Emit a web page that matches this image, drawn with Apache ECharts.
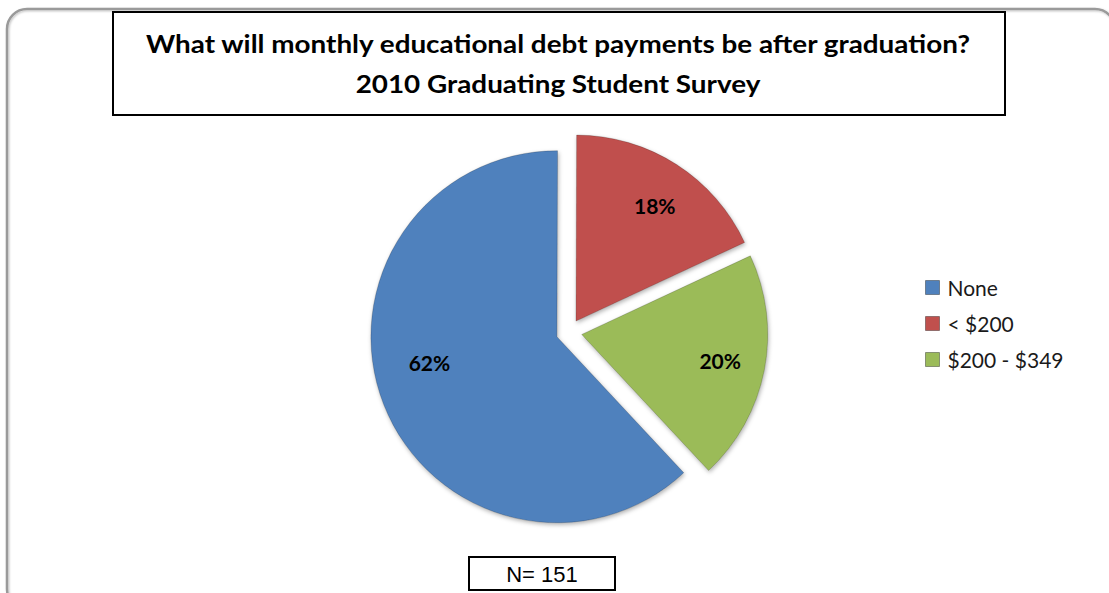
<!DOCTYPE html>
<html>
<head>
<meta charset="utf-8">
<script src="https://cdn.jsdelivr.net/npm/echarts@6/dist/echarts.min.js"></script>
<style>
  html, body { margin: 0; padding: 0; background: #ffffff; }
  #chart { width: 1109px; height: 593px; }
</style>
</head>
<body>
<div id="chart"></div>
<script>
// Survey answers and their shares (percent of respondents)
const categories = ['None', '< $200', '$200 - $349'];
const shares = [62, 18, 20];
const sliceColors = ['#4F81BD', '#C0504D', '#9BBB59'];
const titleLines = [
  'What will monthly educational debt payments be after graduation?',
  '2010 Graduating Student Survey'
];
const sampleNote = 'N= 151';

const chart = echarts.init(document.getElementById('chart'), null, { renderer: 'svg' });

// Pie geometry
const CX = 569, CY = 332, R = 186;
const START = 313;          // first slice starts in the lower right, slices run clockwise
const EXPLODE = 13;         // every slice is pulled out from the centre
const LABEL_FRAC = 0.72;    // labels sit at this fraction of the radius
const LABEL_NUDGE = [[0, -24], [5, 0], [4, 0]];  // small per-label adjustments (px)

// mid angle of each slice, in ECharts' convention (counter-clockwise from 3 o'clock)
const total = shares.reduce((a, b) => a + b, 0);
const midAngles = [];
let acc = 0;
shares.forEach(v => {
  const a0 = START - acc / total * 360;
  const a1 = a0 - v / total * 360;
  midAngles.push((a0 + a1) / 2 * Math.PI / 180);
  acc += v;
});

const titleFont = 'bold 24px Lato, "Open Sans", sans-serif';
const TITLE_STRETCH = 1.16;   // condensed title face widened to fill its box

const option = {
  animation: false,
  backgroundColor: '#ffffff',
  graphic: [
    {
      type: 'rect', z: 0, silent: true,
      shape: { x: 7, y: 9, width: 1108, height: 600, r: 20 },
      style: { fill: 'none', stroke: '#9a9a9a', lineWidth: 2.5,
               shadowBlur: 2, shadowColor: 'rgba(0,0,0,0.25)', shadowOffsetX: 1, shadowOffsetY: 1 }
    },
    {
      type: 'rect', z: 1, silent: true,
      shape: { x: 113, y: 12, width: 892, height: 103 },
      style: { fill: '#ffffff', stroke: '#000000', lineWidth: 2 }
    },
    {
      type: 'text', z: 2, silent: true, x: 558, y: 44, scaleX: TITLE_STRETCH,
      style: { text: titleLines[0], font: titleFont, fill: '#000', align: 'center', verticalAlign: 'middle' }
    },
    {
      type: 'text', z: 2, silent: true, x: 558, y: 84, scaleX: TITLE_STRETCH,
      style: { text: titleLines[1], font: titleFont, fill: '#000', align: 'center', verticalAlign: 'middle' }
    },
    {
      type: 'rect', z: 1, silent: true,
      shape: { x: 469, y: 557, width: 146, height: 33 },
      style: { fill: '#ffffff', stroke: '#000000', lineWidth: 2 }
    },
    {
      type: 'text', z: 2, silent: true, x: 542, y: 574,
      style: { text: sampleNote, font: '22px "Liberation Sans", Arial, sans-serif', fill: '#000',
               align: 'center', verticalAlign: 'middle' }
    }
  ],
  legend: {
    orient: 'vertical',
    left: 920,
    top: 272,
    icon: 'rect',
    itemWidth: 14,
    itemHeight: 14,
    itemGap: 15,
    selectedMode: false,
    data: categories,
    textStyle: {
      fontFamily: 'Lato, "Open Sans", sans-serif',
      fontSize: 21,
      lineHeight: 20,
      color: '#1a1a1a',
      padding: [0, 0, 0, 3]
    },
    itemStyle: { borderColor: 'rgba(0,0,0,0.35)', borderWidth: 1 }
  },
  series: [
    {
      type: 'pie',
      center: [CX, CY],
      radius: R,
      startAngle: START,
      clockwise: true,
      selectedMode: 'multiple',
      selectedOffset: EXPLODE,
      avoidLabelOverlap: false,
      emphasis: { disabled: true },
      itemStyle: {
        borderColor: 'rgba(0,0,0,0.18)',
        borderWidth: 1,
        shadowBlur: 4,
        shadowColor: 'rgba(0,0,0,0.3)',
        shadowOffsetX: 1,
        shadowOffsetY: 2
      },
      label: {
        show: true,
        position: 'inside',
        formatter: '{c}%',
        fontFamily: 'Lato, "Open Sans", sans-serif',
        fontWeight: 'bold',
        fontSize: 21,
        color: '#000'
      },
      labelLine: { show: false },
      labelLayout: p => {
        const a = midAngles[p.dataIndex];
        const s = (LABEL_FRAC - 0.5) * R;
        const n = LABEL_NUDGE[p.dataIndex];
        return { dx: Math.cos(a) * s + n[0], dy: -Math.sin(a) * s + n[1] };
      },
      data: categories.map((name, i) => ({
        name,
        value: shares[i],
        selected: true,
        itemStyle: { color: sliceColors[i] }
      }))
    }
  ]
};

chart.setOption(option);
</script>
</body>
</html>
